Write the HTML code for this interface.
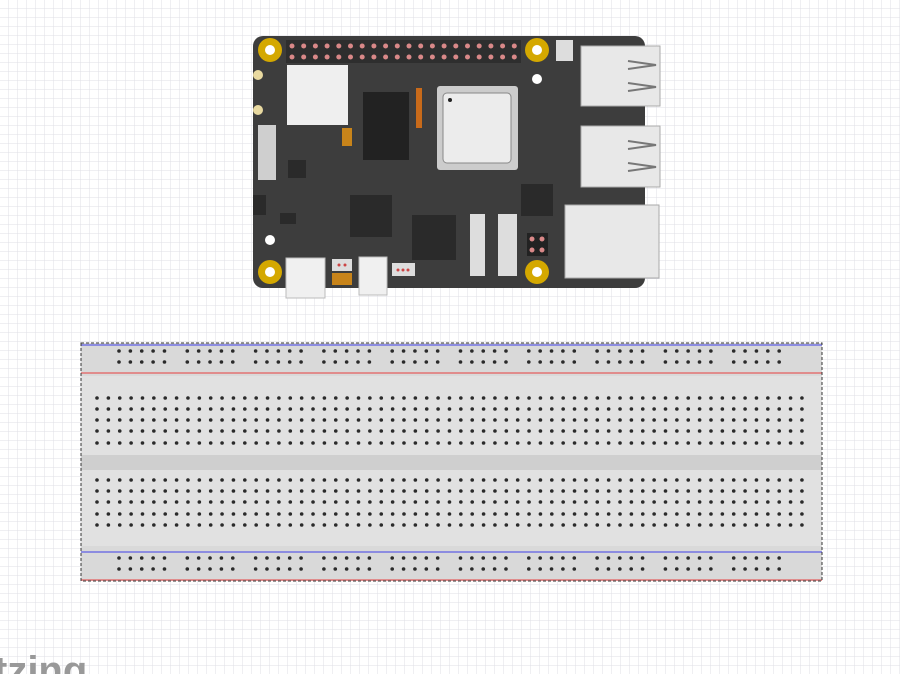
<!DOCTYPE html>
<html><head><meta charset="utf-8"><style>
html,body{margin:0;padding:0;width:900px;height:674px;overflow:hidden;background:#fff}
svg{display:block}
</style></head><body>
<svg id="s" width="900" height="674" xmlns="http://www.w3.org/2000/svg">
<defs>
<pattern id="g" width="9" height="9" patternUnits="userSpaceOnUse">
<path d="M9 0V9H0" fill="none" stroke="#dfdfe6" stroke-width="1"/>
</pattern>
</defs>
<rect width="900" height="674" fill="url(#g)"/>
<text x="-6" y="684" font-family="Liberation Sans, sans-serif" font-size="40" font-weight="bold" fill="#999">tzing</text>

<!-- board -->
<rect x="253" y="36" width="392" height="252" rx="10" fill="#3d3d3d"/>
<rect x="286" y="40" width="235" height="23" fill="#2e2e2e"/>
<g id="pins"></g>
<g fill="#d4a800"><circle cx="270" cy="50" r="12"/><circle cx="537" cy="50" r="12"/><circle cx="270" cy="272" r="12"/><circle cx="537" cy="272" r="12"/></g>
<g fill="#fff"><circle cx="270" cy="50" r="5"/><circle cx="537" cy="50" r="5"/><circle cx="270" cy="272" r="5"/><circle cx="537" cy="272" r="5"/><circle cx="537" cy="79" r="5"/><circle cx="270" cy="240" r="5"/></g>
<rect x="556" y="40" width="17" height="21" fill="#ddd"/>
<rect x="287" y="65" width="61" height="60" fill="#efefef"/>
<rect x="363" y="92" width="46" height="68" fill="#222"/>
<rect x="437" y="86" width="81" height="84" rx="3" fill="#ccc"/>
<rect x="443" y="93" width="68" height="70" rx="4" fill="#ececec" stroke="#888"/>
<circle cx="450" cy="100" r="2" fill="#222"/>
<rect x="416" y="88" width="6" height="40" fill="#c86a1a"/>
<rect x="342" y="128" width="10" height="18" fill="#c8841a"/>
<rect x="581" y="46" width="79" height="60" fill="#e8e8e8" stroke="#aaa"/>
<rect x="581" y="126" width="79" height="61" fill="#e8e8e8" stroke="#aaa"/>
<path d="M628 61l28 4-28 4M628 83l28 4-28 4M628 141l28 4-28 4M628 163l28 4-28 4" fill="none" stroke="#777" stroke-width="2"/>
<rect x="565" y="205" width="94" height="73" fill="#e8e8e8" stroke="#aaa"/>
<rect x="288" y="160" width="18" height="18" fill="#2a2a2a"/>
<rect x="350" y="195" width="42" height="42" fill="#2a2a2a"/>
<rect x="412" y="215" width="44" height="45" fill="#2a2a2a"/>
<rect x="521" y="184" width="32" height="32" fill="#2a2a2a"/>
<rect x="280" y="213" width="16" height="11" fill="#2a2a2a"/>
<rect x="253" y="195" width="13" height="20" fill="#2a2a2a"/>
<rect x="470" y="214" width="15" height="62" fill="#ddd"/>
<rect x="498" y="214" width="19" height="62" fill="#ddd"/>
<rect x="258" y="125" width="18" height="55" fill="#cfcfcf"/>
<circle cx="258" cy="75" r="5" fill="#e8d9a0"/><circle cx="258" cy="110" r="5" fill="#e8d9a0"/>
<rect x="527" y="233" width="21" height="23" fill="#222"/>
<g fill="#d98888"><circle cx="532" cy="239" r="2.5"/><circle cx="542" cy="239" r="2.5"/><circle cx="532" cy="250" r="2.5"/><circle cx="542" cy="250" r="2.5"/></g>
<rect x="286" y="258" width="39" height="40" fill="#f0f0f0" stroke="#bbb"/>
<rect x="359" y="257" width="28" height="38" fill="#f0f0f0" stroke="#bbb"/>
<rect x="332" y="259" width="20" height="12" fill="#ddd"/>
<rect x="332" y="273" width="20" height="12" fill="#c8841a"/>
<rect x="392" y="263" width="23" height="13" fill="#ddd"/>
<g fill="#c44"><circle cx="398" cy="270" r="1.5"/><circle cx="403" cy="270" r="1.5"/><circle cx="408" cy="270" r="1.5"/><circle cx="339" cy="265" r="1.5"/><circle cx="345" cy="265" r="1.5"/></g>

<!-- breadboard -->
<rect x="81" y="343" width="741" height="238" fill="#d9d9d9"/>
<rect x="81" y="376" width="741" height="170" fill="#e1e1e1"/>
<rect x="81" y="455" width="741" height="15" fill="#cfcfcf"/>
<rect x="81" y="344" width="741" height="2" fill="#8c8ce0"/>
<rect x="81" y="372" width="741" height="2" fill="#e08c8c"/>
<rect x="81" y="551" width="741" height="2" fill="#8c8ce0"/>
<rect x="81" y="579" width="741" height="2" fill="#e08c8c"/>
<rect x="81" y="343" width="741" height="238" fill="none" stroke="#333" stroke-dasharray="3,2"/>
<g id="holes" fill="#2a2a2a"></g>
</svg>
<script>
var ns="http://www.w3.org/2000/svg";
function c(p,x,y,r,f){var e=document.createElementNS(ns,"circle");e.setAttribute("cx",x);e.setAttribute("cy",y);e.setAttribute("r",r);if(f)e.setAttribute("fill",f);p.appendChild(e);}
var pins=document.getElementById("pins");
for(var i=0;i<20;i++){c(pins,292+i*11.7,46,2.5,"#d98888");c(pins,292+i*11.7,57,2.5,"#d98888");}
var h=document.getElementById("holes");
var rows=[398,409,420,431,443,480,491,502,514,525];
for(var j=0;j<63;j++)for(var k=0;k<rows.length;k++)c(h,97+j*11.37,rows[k],1.8);
var rails=[351,362,558,569];
for(var g=0;g<10;g++)for(var m=0;m<5;m++)for(var k=0;k<4;k++)c(h,119+g*68.3+m*11.37,rails[k],1.8);
</script>
</body></html>
